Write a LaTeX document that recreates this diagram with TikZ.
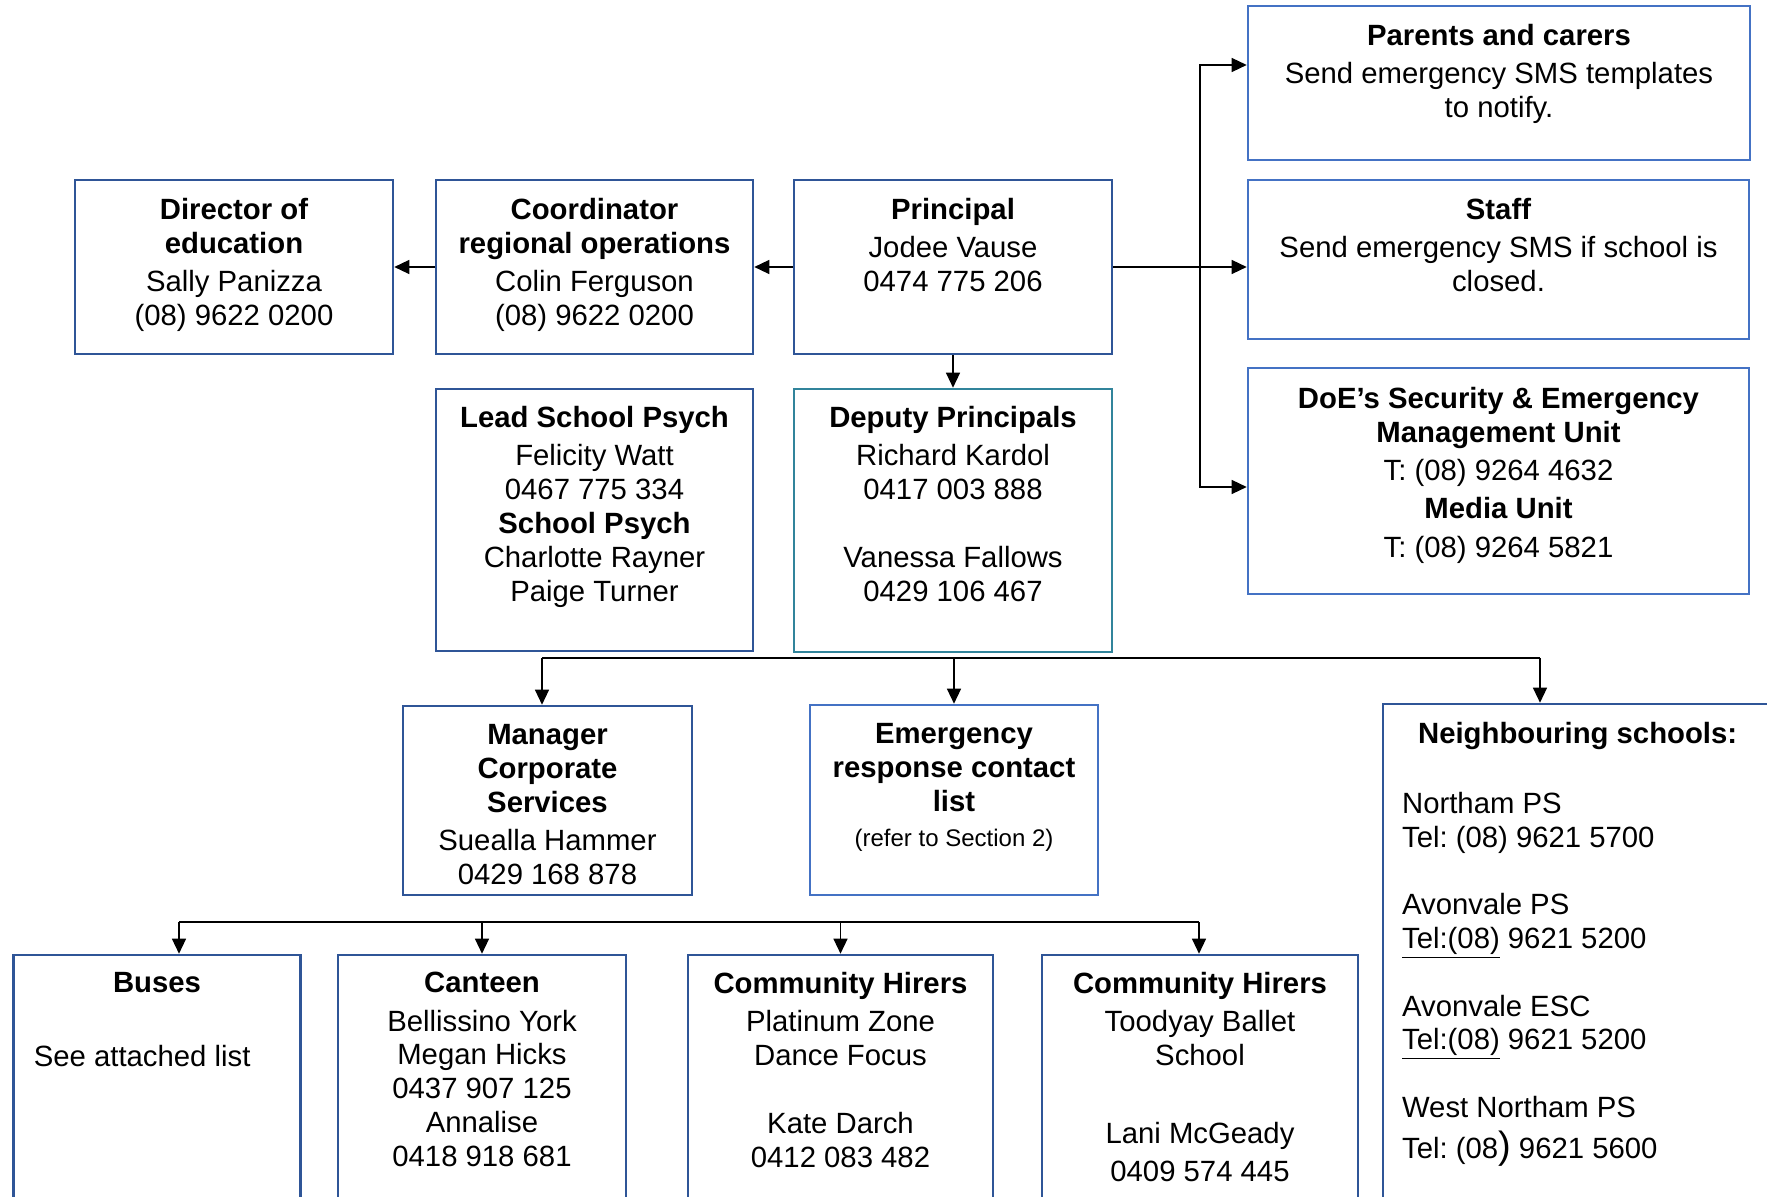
\documentclass[tikz,border=0pt]{standalone}
\usepackage{fontspec}
\setmainfont{Liberation Sans}
\usepackage{xcolor}
\usetikzlibrary{positioning, arrows.meta}

\definecolor{navyb}{HTML}{2F5597}
\definecolor{skyb}{HTML}{4472C4}
\definecolor{tealb}{HTML}{31849B}
\frenchspacing

\begin{document}
\begin{tikzpicture}[x=0.5pt, y=-0.5pt,
    box/.style={draw=#1, line width=1.3pt, inner sep=0pt},
    box/.default=navyb,
    txt/.style={align=center, inner sep=0pt, font=\fontsize{14.65}{16.9}\selectfont},
    wire/.style={line width=0.65pt},
    arr/.style={wire, -{Triangle[length=7.5pt,width=7pt]}}]
    \useasboundingbox (0,0) rectangle (1767,1197);
    \clip (0,0) rectangle (1767,1197);

    % Top row
    \node[box, minimum width=159pt, minimum height=87pt] (dir) at (234,267) {};
    \node[box, minimum width=158.5pt, minimum height=87pt] (coord) at (594.5,267) {};
    \node[box, minimum width=159pt, minimum height=87pt] (prin) at (953,267) {};
    \node[txt, below=9.6pt of dir.north] (dir-t) {\textbf{Director of}\\\textbf{education}\\[2.3pt]Sally Panizza\\(08) 9622 0200};
    \node[txt, below=9.6pt of coord.north] (coord-t) {\textbf{Coordinator}\\\textbf{regional operations}\\[2.3pt]Colin Ferguson\\(08) 9622 0200};
    \node[txt, below=9.6pt of prin.north] (prin-t) {\textbf{Principal}\\[2.3pt]Jodee Vause\\0474 775 206};

    % Right column
    \node[box=skyb, minimum width=251pt, minimum height=77pt] (par) at (1499,83) {};
    \node[box=skyb, minimum width=250.5pt, minimum height=79.5pt] (staff) at (1498.5,259.5) {};
    \node[box=skyb, minimum width=250.5pt, minimum height=113pt] (doe) at (1498.5,481) {};
    \node[txt, below=9.6pt of par.north] (par-t) {\textbf{Parents and carers}\\[2.3pt]Send emergency SMS templates\\to notify.};
    \node[txt, below=9.6pt of staff.north] (staff-t) {\textbf{Staff}\\[2.3pt]Send emergency SMS if school is\\closed.};
    \node[txt, below=10pt of doe.north] (doe-t) {\textbf{DoE’s Security \& Emergency}\\\textbf{Management Unit}\\[2.3pt]T: (08) 9264 4632\\[2.3pt]\textbf{Media Unit}\\[2.3pt]T: (08) 9264 5821};

    % Second row
    \node[box, minimum width=158.5pt, minimum height=131pt] (psy) at (594.5,520) {};
    \node[box=tealb, minimum width=159pt, minimum height=131.5pt] (dep) at (953,520.5) {};
    \node[txt, below=9.1pt of psy.north] (psy-t) {\textbf{Lead School Psych}\\[2.3pt]Felicity Watt\\0467 775 334\\\textbf{School Psych}\\Charlotte Rayner\\Paige Turner};
    \node[txt, below=9.1pt of dep.north] (dep-t) {\textbf{Deputy Principals}\\[2.3pt]Richard Kardol\\0417 003 888\\[16.9pt]Vanessa Fallows\\0429 106 467};

    % Third row
    \node[box, minimum width=144.5pt, minimum height=94.5pt] (mgr) at (547.5,800.5) {};
    \node[box=skyb, minimum width=144pt, minimum height=95pt] (emg) at (954,800) {};
    \node[box, minimum width=208.5pt, minimum height=263pt] (nbr) at (1591.5,967) {};
    \node[txt, below=9.6pt of mgr.north] (mgr-t) {\textbf{Manager}\\\textbf{Corporate}\\\textbf{Services}\\[2.3pt]Suealla Hammer\\0429 168 878};
    \node[txt, below=9.6pt of emg.north] (emg-t) {\textbf{Emergency}\\\textbf{response contact}\\\textbf{list}\\[0.6pt]{\fontsize{12}{14}\selectfont (refer to Section 2)}};
    \node[txt, below right=9.8pt and 18pt of nbr.north west] (nbr-t) {\textbf{Neighbouring schools:}};
    \node[txt, align=left, below right=44.5pt and 10pt of nbr.north west] (nbr-list) {Northam PS\\Tel: (08) 9621 5700\\[16.9pt]Avonvale PS\\\underline{Tel:(08)} 9621 5200\\[16.9pt]Avonvale ESC\\\underline{Tel:(08)} 9621 5200\\[16.9pt]West Northam PS\\[3.5pt]Tel: (08{\fontsize{19}{17}\selectfont )} 9621 5600};

    % Bottom row
    \node[box, minimum width=143.75pt, minimum height=137.5pt] (bus) at (157,1092.5) {};
    \node[box, minimum width=144pt, minimum height=137.5pt] (can) at (482,1092.5) {};
    \node[box, minimum width=152.5pt, minimum height=137.5pt] (chA) at (840.5,1092.5) {};
    \node[box, minimum width=158pt, minimum height=137.5pt] (chB) at (1200,1092.5) {};
    \node[txt, below=9.1pt of bus.north] (bus-t) {\textbf{Buses}};
    \node[txt, below right=45.6pt and 10.75pt of bus.north west] (bus-list) {See attached list};
    \node[txt, below=9.1pt of can.north] (can-t) {\textbf{Canteen}\\[2.3pt]Bellissino York\\Megan Hicks\\0437 907 125\\Annalise\\0418 918 681};
    \node[txt, below=9.1pt of chA.north] (chA-t) {\textbf{Community Hirers}\\[2.3pt]Platinum Zone\\Dance Focus\\[16.9pt]Kate Darch\\0412 083 482};
    \node[txt, below=9.1pt of chB.north] (chB-t) {\textbf{Community Hirers}\\[2.3pt]Toodyay Ballet\\School\\[22pt]Lani McGeady\\[2.3pt]0409 574 445};

    % Principal links
    \draw[arr] (coord.west) -- (dir.east);
    \draw[arr] (prin.west) -- (coord.east);
    \draw[arr] (prin.east) -- (prin.east -| staff.west);
    \coordinate (fork) at (1200,267);
    \draw[arr] (fork) |- (par.west |- 0,65);
    \draw[arr] (fork) |- (doe.west |- 0,487);
    \draw[arr] (prin.south) -- (dep.north);

    % Upper bus
    \coordinate (busAw) at (542,658);
    \coordinate (busAe) at (1540,658);
    \draw[wire] (busAw) -- (busAe);
    \draw[arr] (busAw) -- (busAw |- mgr.north);
    \draw[arr] (emg.north |- busAw) -- (emg.north);
    \draw[arr] (busAe) -- (busAe |- nbr.north);

    % Lower bus
    \coordinate (busBw) at (179,922);
    \coordinate (busBe) at (1199,922);
    \draw[wire] (busBw) -- (busBe);
    \draw[arr] (busBw) -- (busBw |- bus.north);
    \draw[arr] (can.north |- busBw) -- (can.north);
    \draw[arr] (chA.north |- busBw) -- (chA.north);
    \draw[arr] (busBe) -- (busBe |- chB.north);
\end{tikzpicture}
\end{document}
